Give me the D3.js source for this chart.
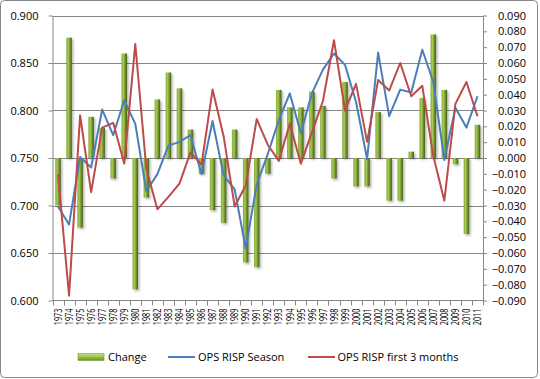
<!DOCTYPE html>
<html>
<head>
<meta charset="utf-8">
<script src="https://cdn.jsdelivr.net/npm/d3@7"></script>
<style>
  body { margin: 0; background: #fff; }
  svg text { font-family: "Open Sans", sans-serif; fill: #000; }
</style>
</head>
<body>
<svg id="chart" width="540" height="379"></svg>
<script>

  //  1] Data ----------------------------------------//

  const years = [
    1973, 1974, 1975, 1976, 1977, 1978, 1979, 1980, 1981, 1982,
    1983, 1984, 1985, 1986, 1987, 1988, 1989, 1990, 1991, 1992,
    1993, 1994, 1995, 1996, 1997, 1998, 1999, 2000, 2001, 2002,
    2003, 2004, 2005, 2006, 2007, 2008, 2009, 2010, 2011
  ]

  // bars, right axis
  const change = [
    -0.030, 0.076, -0.044, 0.026, 0.019, -0.013, 0.066, -0.083, -0.025, 0.037,
    0.054, 0.044, 0.018, -0.010, -0.033, -0.041, 0.018, -0.066, -0.069, -0.010,
    0.043, 0.032, 0.032, 0.042, 0.033, -0.013, 0.048, -0.018, -0.018, 0.029,
    -0.027, -0.027, 0.004, 0.038, 0.078, 0.043, -0.004, -0.048, 0.021
  ]

  // lines, left axis
  const opsSeason = [
    0.699, 0.680, 0.751, 0.740, 0.801, 0.774, 0.811, 0.786, 0.715, 0.733,
    0.763, 0.767, 0.774, 0.733, 0.789, 0.732, 0.717, 0.655, 0.722, 0.754,
    0.790, 0.818, 0.776, 0.818, 0.843, 0.860, 0.848, 0.809, 0.749, 0.861,
    0.794, 0.822, 0.819, 0.864, 0.830, 0.748, 0.803, 0.782, 0.815
  ]

  const opsFirst3 = [
    0.733, 0.605, 0.795, 0.714, 0.782, 0.787, 0.744, 0.870, 0.739, 0.696,
    0.709, 0.723, 0.756, 0.743, 0.822, 0.773, 0.699, 0.721, 0.791, 0.764,
    0.747, 0.786, 0.744, 0.777, 0.810, 0.874, 0.800, 0.828, 0.767, 0.832,
    0.821, 0.850, 0.815, 0.826, 0.752, 0.705, 0.807, 0.830, 0.794
  ]

  const leftTicks = [0.600, 0.650, 0.700, 0.750, 0.800, 0.850, 0.900]
  const rightTicks = [
    -0.090, -0.080, -0.070, -0.060, -0.050, -0.040, -0.030, -0.020, -0.010,
    0.000, 0.010, 0.020, 0.030, 0.040, 0.050, 0.060, 0.070, 0.080, 0.090
  ]

  const seriesNames = ["Change", "OPS RISP Season", "OPS RISP first 3 months"]

  //  2] Settings ------------------------------------//

  const plotLeft = 52.5, plotRight = 483, plotTop = 15.5, plotBottom = 300.5
  const grey = "#868686"
  const blue = "#4a7ebb"
  const red = "#be4b48"
  const fmt = d3.format(".3f")

  const svg = d3.select("#chart")

  // outer frame
  svg.append("rect")
     .attr("x", 0.5).attr("y", 0.5)
     .attr("width", 537).attr("height", 377)
     .attr("rx", 4)
     .attr("fill", "#fff")
     .attr("stroke", grey)

  const defs = svg.append("defs")
  const barGrad = defs.append("linearGradient")
     .attr("id", "barGrad")
     .attr("x1", "0").attr("x2", "1").attr("y1", "0").attr("y2", "0")
  barGrad.append("stop").attr("offset", "0%").attr("stop-color", "#86ab3a")
  barGrad.append("stop").attr("offset", "35%").attr("stop-color", "#a5c857")
  barGrad.append("stop").attr("offset", "70%").attr("stop-color", "#6e8f28")
  barGrad.append("stop").attr("offset", "100%").attr("stop-color", "#445d17")

  const legGrad = defs.append("linearGradient")
     .attr("id", "legGrad")
     .attr("x1", "0").attr("x2", "0").attr("y1", "0").attr("y2", "1")
  legGrad.append("stop").attr("offset", "0%").attr("stop-color", "#c9e27f")
  legGrad.append("stop").attr("offset", "50%").attr("stop-color", "#9cc04a")
  legGrad.append("stop").attr("offset", "100%").attr("stop-color", "#6a8a28")

  defs.append("filter").attr("id", "shadow")
      .attr("x", "-50%").attr("y", "-10%").attr("width", "250%").attr("height", "120%")
      .append("feDropShadow")
      .attr("dx", 1.5).attr("dy", 1.5).attr("stdDeviation", 1)
      .attr("flood-color", "#000").attr("flood-opacity", 0.3)

  //  3] Scales --------------------------------------//

  const xScale = d3.scaleBand()
                   .domain(years)
                   .range([plotLeft, plotRight])
  const bw = xScale.bandwidth()
  const cx = (d) => xScale(d) + bw / 2

  const yLeft = d3.scaleLinear().domain([0.6, 0.9]).range([plotBottom, plotTop])
  const yRight = d3.scaleLinear().domain([-0.09, 0.09]).range([plotBottom, plotTop])

  //  4] Gridlines and axes --------------------------//

  svg.append("g")
     .selectAll("line")
     .data(leftTicks.slice(1))
     .join("line")
     .attr("x1", plotLeft).attr("x2", plotRight)
     .attr("y1", (d) => Math.round(yLeft(d)) + 0.5)
     .attr("y2", (d) => Math.round(yLeft(d)) + 0.5)
     .attr("stroke", grey)

  const yAxisL = svg.append("g")
     .attr("transform", `translate(${plotLeft},0)`)
     .call(d3.axisLeft(yLeft).tickValues(leftTicks).tickFormat(fmt)
             .tickSizeInner(4).tickSizeOuter(0).tickPadding(10))
  yAxisL.select(".domain").attr("stroke", grey)
  yAxisL.selectAll(".tick line").attr("stroke", grey)
  yAxisL.selectAll("text").attr("font-size", 11).attr("font-family", null)

  const yAxisR = svg.append("g")
     .attr("transform", `translate(${plotRight},0)`)
     .call(d3.axisRight(yRight).tickValues(rightTicks).tickFormat(fmt)
             .tickSizeInner(4).tickSizeOuter(0))
  yAxisR.select(".domain").attr("stroke", grey)
  yAxisR.selectAll(".tick line").attr("stroke", grey)
  yAxisR.selectAll("text")
        .attr("font-size", 11).attr("font-family", null)
        .attr("text-anchor", "end").attr("x", 43)

  // x axis: line, ticks at category edges, rotated year labels
  const xAxis = svg.append("g")
  xAxis.append("line")
       .attr("x1", plotLeft).attr("x2", plotRight)
       .attr("y1", plotBottom).attr("y2", plotBottom)
       .attr("stroke", grey)
  xAxis.selectAll(".edge")
       .data(years.concat(["end"]))
       .join("line")
       .attr("class", "edge")
       .attr("x1", (d) => Math.round(d === "end" ? plotRight : xScale(d)) + 0.5)
       .attr("x2", (d) => Math.round(d === "end" ? plotRight : xScale(d)) + 0.5)
       .attr("y1", plotBottom).attr("y2", plotBottom + 5)
       .attr("stroke", grey)
  xAxis.selectAll("text")
       .data(years)
       .join("text")
       .attr("transform", (d) => `translate(${cx(d)},${plotBottom + 8}) scale(1,0.7) rotate(-90)`)
       .attr("text-anchor", "end")
       .attr("dy", "0.35em")
       .attr("font-size", 10.5)
       .text((d) => d)

  //  5] Bars ----------------------------------------//

  const barW = 5.5
  svg.append("g")
     .attr("filter", "url(#shadow)")
     .selectAll("rect")
     .data(years)
     .join("rect")
     .attr("x", (d) => cx(d) - barW / 2)
     .attr("width", barW)
     .attr("y", (d, i) => Math.min(yRight(0), yRight(change[i])))
     .attr("height", (d, i) => Math.abs(yRight(change[i]) - yRight(0)))
     .attr("fill", "url(#barGrad)")

  //  6] Lines ---------------------------------------//

  const line = d3.line()
                 .x((d) => cx(d[0]))
                 .y((d) => yLeft(d[1]))

  svg.append("path")
     .attr("d", line(d3.zip(years, opsSeason)))
     .attr("fill", "none")
     .attr("stroke", blue)
     .attr("stroke-width", 2)
     .attr("stroke-linejoin", "round")

  svg.append("path")
     .attr("d", line(d3.zip(years, opsFirst3)))
     .attr("fill", "none")
     .attr("stroke", red)
     .attr("stroke-width", 2)
     .attr("stroke-linejoin", "round")

  //  7] Legend --------------------------------------//

  const legend = svg.append("g").attr("font-size", 11)
  legend.append("rect")
        .attr("x", 78).attr("y", 353.5)
        .attr("width", 26).attr("height", 7)
        .attr("fill", "url(#legGrad)")
        .attr("stroke", "#7a9a33").attr("stroke-width", 0.6)
  legend.append("text").attr("x", 108).attr("y", 361).text(seriesNames[0])

  legend.append("line")
        .attr("x1", 168).attr("x2", 195).attr("y1", 357).attr("y2", 357)
        .attr("stroke", blue).attr("stroke-width", 2)
  legend.append("text").attr("x", 198).attr("y", 361).text(seriesNames[1])

  legend.append("line")
        .attr("x1", 308).attr("x2", 335).attr("y1", 357).attr("y2", 357)
        .attr("stroke", red).attr("stroke-width", 2)
  legend.append("text").attr("x", 337.5).attr("y", 361).text(seriesNames[2])

</script>
</body>
</html>
